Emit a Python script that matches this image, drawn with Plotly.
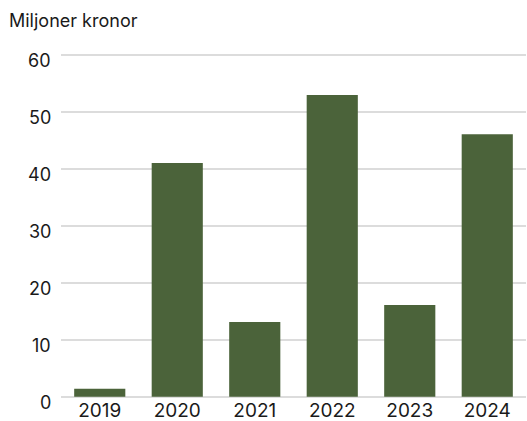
import plotly.graph_objects as go

# values in millions SEK
years = ["2019", "2020", "2021", "2022", "2023", "2024"]
amounts = [1.4, 41, 13.1, 52.9, 16.1, 46]
y_ticks = [0, 10, 20, 30, 40, 50, 60]

bar_color = "#4b633a"
text_color = "#1a1a1a"
font_family = "Inter, Roboto, 'Noto Sans', sans-serif"

fig = go.Figure()
fig.add_trace(go.Bar(x=years, y=amounts, marker_color=bar_color,
                     marker_line_width=0, hoverinfo="x+y"))

# y labels sit a little below their gridlines in the original, so they are annotations
notes = [dict(text=str(v), xref="paper", yref="y", x=0, y=v, xanchor="right",
              yanchor="middle", xshift=-8, yshift=-6, showarrow=False,
              font=dict(size=18, color=text_color)) for v in y_ticks]
notes.append(dict(text="Miljoner kronor", xref="paper", yref="paper", x=0, y=1,
                  xanchor="left", yanchor="middle", xshift=-54, yshift=32,
                  showarrow=False, font=dict(size=18, color=text_color)))

fig.update_layout(
    width=527, height=421,
    margin=dict(l=61, r=1, t=52, b=22),
    paper_bgcolor="white", plot_bgcolor="white",
    bargap=0.34,
    showlegend=False,
    font=dict(family=font_family, size=18, color=text_color),
    annotations=notes,
)
fig.update_xaxes(showgrid=False, showline=False, ticks="", tickfont=dict(size=19),
                 ticklabelstandoff=-2, automargin=False)
fig.update_yaxes(range=[-0.4, 60.44], tickvals=y_ticks, showticklabels=False,
                 showgrid=True, gridcolor="#dcdcdc", gridwidth=2, zeroline=False,
                 showline=False, ticks="", automargin=False)

# drop the browser's default body margin so the figure sits at the window corner
fig.write_html("out.html", config={"displayModeBar": False},
               post_script="document.body.style.margin='0';")
